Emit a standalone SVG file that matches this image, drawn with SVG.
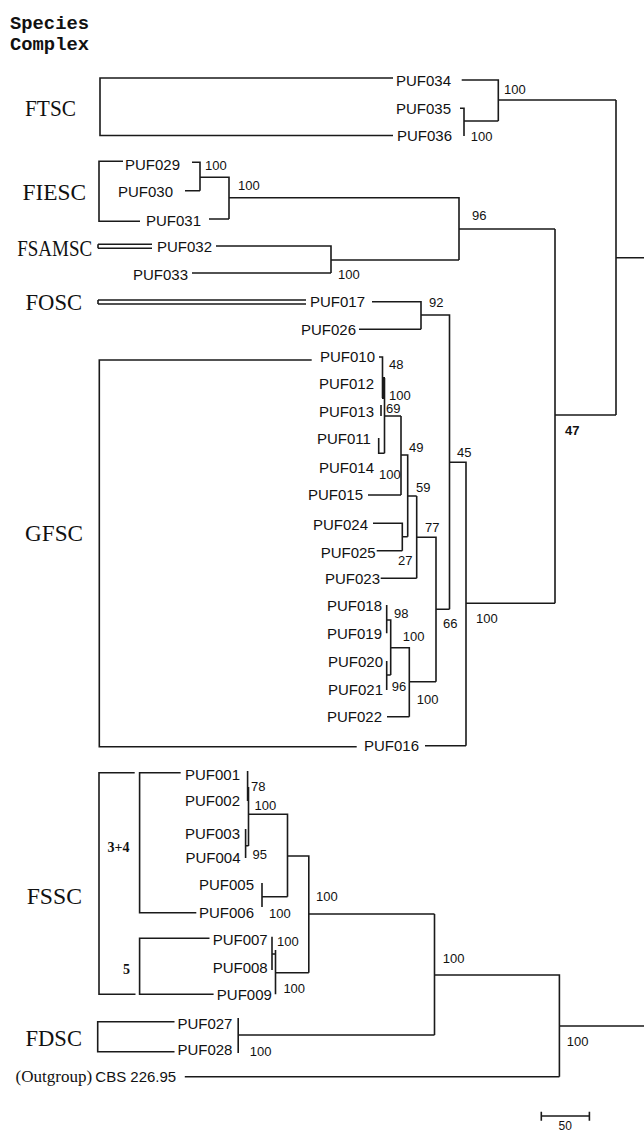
<svg xmlns="http://www.w3.org/2000/svg" width="644" height="1131" viewBox="0 0 644 1131">
<style>
.leaf{font-family:"Liberation Sans",Arial,sans-serif;font-size:15px;fill:#111}
.bs{font-family:"Liberation Sans",Arial,sans-serif;font-size:13px;fill:#111}
.clade{font-family:"Liberation Serif","Times New Roman",serif;font-size:23px;fill:#111}
.title{font-family:"Liberation Mono","Courier New",monospace;font-size:19px;font-weight:bold;fill:#111}
.br{font-family:"Liberation Serif","Times New Roman",serif;font-size:14px;font-weight:bold;fill:#111}
.c path{fill:none;stroke:#1a1a1a;stroke-width:1.6}
</style>
<rect width="644" height="1131" fill="#fff"/>
<g id="title">
<text class="title" x="10" y="29" textLength="79" lengthAdjust="spacingAndGlyphs">Species</text>
<text class="title" x="10" y="50" textLength="79" lengthAdjust="spacingAndGlyphs">Complex</text>
</g>
<g id="clade-labels">
<text id="FTSC" class="clade" x="25" y="115.6" textLength="51" lengthAdjust="spacingAndGlyphs">FTSC</text>
<text id="FIESC" class="clade" x="22.6" y="200" textLength="63.6" lengthAdjust="spacingAndGlyphs">FIESC</text>
<text id="FSAMSC" class="clade" x="17.2" y="255.6" textLength="75" lengthAdjust="spacingAndGlyphs">FSAMSC</text>
<text id="FOSC" class="clade" x="25.5" y="310.3" textLength="56.6" lengthAdjust="spacingAndGlyphs">FOSC</text>
<text id="GFSC" class="clade" x="25" y="540.6" textLength="58" lengthAdjust="spacingAndGlyphs">GFSC</text>
<text id="FSSC" class="clade" x="26.7" y="904.3" textLength="55.3" lengthAdjust="spacingAndGlyphs">FSSC</text>
<text id="FDSC" class="clade" x="25.5" y="1046" textLength="56.5" lengthAdjust="spacingAndGlyphs">FDSC</text>
<text class="br" x="107.6" y="851.5">3+4</text>
<text class="br" x="123" y="974">5</text>
</g>
<g id="leaves">
<g id="n-PUF034"><text class="leaf" x="396" y="86">PUF034</text></g>
<g id="n-PUF035"><text class="leaf" x="396" y="113.7">PUF035</text></g>
<g id="n-PUF036"><text class="leaf" x="397" y="141">PUF036</text></g>
<g id="n-PUF029"><text class="leaf" x="125" y="170">PUF029</text></g>
<g id="n-PUF030"><text class="leaf" x="118" y="197.4">PUF030</text></g>
<g id="n-PUF031"><text class="leaf" x="146" y="226">PUF031</text></g>
<g id="n-PUF032"><text class="leaf" x="157" y="252">PUF032</text></g>
<g id="n-PUF033"><text class="leaf" x="133" y="280.4">PUF033</text></g>
<g id="n-PUF017"><text class="leaf" x="310" y="307">PUF017</text></g>
<g id="n-PUF026"><text class="leaf" x="301" y="335.4">PUF026</text></g>
<g id="n-PUF010"><text class="leaf" x="320" y="362">PUF010</text></g>
<g id="n-PUF012"><text class="leaf" x="319" y="389.4">PUF012</text></g>
<g id="n-PUF013"><text class="leaf" x="319" y="417">PUF013</text></g>
<g id="n-PUF011"><text class="leaf" x="317" y="444.4">PUF011</text></g>
<g id="n-PUF014"><text class="leaf" x="319" y="473">PUF014</text></g>
<g id="n-PUF015"><text class="leaf" x="308" y="500.4">PUF015</text></g>
<g id="n-PUF024"><text class="leaf" x="313" y="530.4">PUF024</text></g>
<g id="n-PUF025"><text class="leaf" x="320.7" y="557.7">PUF025</text></g>
<g id="n-PUF023"><text class="leaf" x="325" y="584.4">PUF023</text></g>
<g id="n-PUF018"><text class="leaf" x="327" y="611.4">PUF018</text></g>
<g id="n-PUF019"><text class="leaf" x="327" y="638.7">PUF019</text></g>
<g id="n-PUF020"><text class="leaf" x="328" y="667">PUF020</text></g>
<g id="n-PUF021"><text class="leaf" x="328" y="694.7">PUF021</text></g>
<g id="n-PUF022"><text class="leaf" x="327" y="722">PUF022</text></g>
<g id="n-PUF016"><text class="leaf" x="364" y="751">PUF016</text></g>
<g id="n-PUF001"><text class="leaf" x="185" y="780.4">PUF001</text></g>
<g id="n-PUF002"><text class="leaf" x="185" y="806">PUF002</text></g>
<g id="n-PUF003"><text class="leaf" x="185" y="839.4">PUF003</text></g>
<g id="n-PUF004"><text class="leaf" x="185.5" y="862.7">PUF004</text></g>
<g id="n-PUF005"><text class="leaf" x="199" y="890.4">PUF005</text></g>
<g id="n-PUF006"><text class="leaf" x="199" y="917.7">PUF006</text></g>
<g id="n-PUF007"><text class="leaf" x="212.7" y="945.4">PUF007</text></g>
<g id="n-PUF008"><text class="leaf" x="212.7" y="973">PUF008</text></g>
<g id="n-PUF009"><text class="leaf" x="216.8" y="1000.4">PUF009</text></g>
<g id="n-PUF027"><text class="leaf" x="177.4" y="1028.7">PUF027</text></g>
<g id="n-PUF028"><text class="leaf" x="177.4" y="1055.4">PUF028</text></g>
<g id="n-outgroup"><text x="15.6" y="1082" style="font-family:'Liberation Serif','Times New Roman',serif;font-size:17px;fill:#111">(Outgroup)</text><text class="leaf" x="95.3" y="1082">CBS 226.95</text></g>
</g>
<g id="support">
<text class="bs" x="504" y="94">100</text>
<text class="bs" x="470.7" y="141.3">100</text>
<text class="bs" x="205" y="170.3">100</text>
<text class="bs" x="238" y="189.6">100</text>
<text class="bs" x="472" y="219.6">96</text>
<text class="bs" x="338" y="278.6">100</text>
<text class="bs" x="429" y="307.3">92</text>
<text class="bs" x="389" y="368.6">48</text>
<text class="bs" x="389" y="399.6">100</text>
<text class="bs" x="386" y="412.6">69</text>
<text class="bs" x="379" y="478.6">100</text>
<text class="bs" x="409" y="452.3">49</text>
<text class="bs" x="416" y="492.3">59</text>
<text class="bs" x="457" y="457.3">45</text>
<text class="bs" x="425" y="532.3">77</text>
<text class="bs" x="398" y="564.6">27</text>
<text class="bs" x="394" y="617.6">98</text>
<text class="bs" x="402.7" y="641.3">100</text>
<text class="bs" x="391.7" y="691.3">96</text>
<text class="bs" x="416.7" y="703.6">100</text>
<text class="bs" x="443" y="628">66</text>
<text class="bs" x="476" y="622.6">100</text>
<text class="bs" x="565" y="435.3" style="font-weight:bold">47</text>
<text class="bs" x="251" y="791.3">78</text>
<text class="bs" x="254.6" y="809.6">100</text>
<text class="bs" x="252.6" y="858.6">95</text>
<text class="bs" x="269" y="918">100</text>
<text class="bs" x="316" y="901.3">100</text>
<text class="bs" x="277" y="946.3">100</text>
<text class="bs" x="283.4" y="993">100</text>
<text class="bs" x="442.7" y="963">100</text>
<text class="bs" x="249.7" y="1056.3">100</text>
<text class="bs" x="566.8" y="1046.3">100</text>
<text class="bs" x="558.5" y="1130" style="font-size:12px">50</text>
</g>
<g id="connectors" class="c">
<path d="M393,78H100V135.5H393"/>
<path d="M461.7,80H498.3V121M460,108.3H464V136M464,121H498.3M498.3,100H616"/>
<path d="M123,161.3H99V221.3H140"/>
<path d="M192,162.3H200V190.7M185,190.7H200M200,177.3H229V219M209,219H229M229,197.7H459V260M459,229H555"/>
<path d="M98,244.3H152M98,248.3H152M98,244.3V248.3"/>
<path d="M216,246H331V273M192,273H331M331,260H459"/>
<path d="M98,300H306M98,304H306M98,300V304"/>
<path d="M372,301.7H421V329.3M359,329.3H421M421,315H449.5V609.3M449.5,462.3H466V745.7M425,745.7H466M466,603.3H555M555,229V603.3M555,415H616M616,100V415M616,257.7H644"/>
<path d="M311.7,360H99.3V746.7H356.7"/>
<path d="M379,357H382.5V398M381,405V416M384.5,378V453.3M384.5,416H401M378.7,438V453.3H384.5M401,416V495M368,495H401M401,455H407.7V536.7M407.7,496H416.7"/>
<path d="M383.5,377V399" style="stroke-width:3"/>
<path d="M373,523.3H402.3V550.7M376.7,550.7H402.3M402.3,536.7H407.7M416.7,496V578.3M380.7,578.3H416.7M416.7,537.3H436V681.7M436,609.3H449.5"/>
<path d="M386.7,605V633.3M386.7,620H390.7V675M386.7,661V690M386.7,675H390.7M390.7,647.7H409.3V716.7M387,716.7H409.3M409.3,681.7H436"/>
<path d="M134.7,772.7H99V994.3H135.5"/>
<path d="M180.7,772.7H139.6V912.7H196.3"/>
<path d="M209.5,938.3H139.6V994.3H213.6"/>
<path d="M247.6,771V801M248.5,787V846M245.6,829V858M245.6,845.7H248.5M248.5,814.3H287.5V896.7M262,883V907M262,896.7H287.5M287.5,856H308.8V972.7M308.8,914H434.5"/>
<path d="M272,936.7V970M272,954H275.5M275.5,950V994.3M275.5,972.7H308.8"/>
<path d="M174.5,1021.7H97.7V1051.7H174.5"/>
<path d="M238.2,1018V1053M238.2,1035H434.5M434.5,914V1035M434.5,975H559.4V1076.7M559.4,1026H644M184.8,1076.7H559.4"/>
<path d="M541.3,1116H589.4M541.3,1111.7V1120.7M589.4,1111.7V1120.7"/>
</g>
</svg>
